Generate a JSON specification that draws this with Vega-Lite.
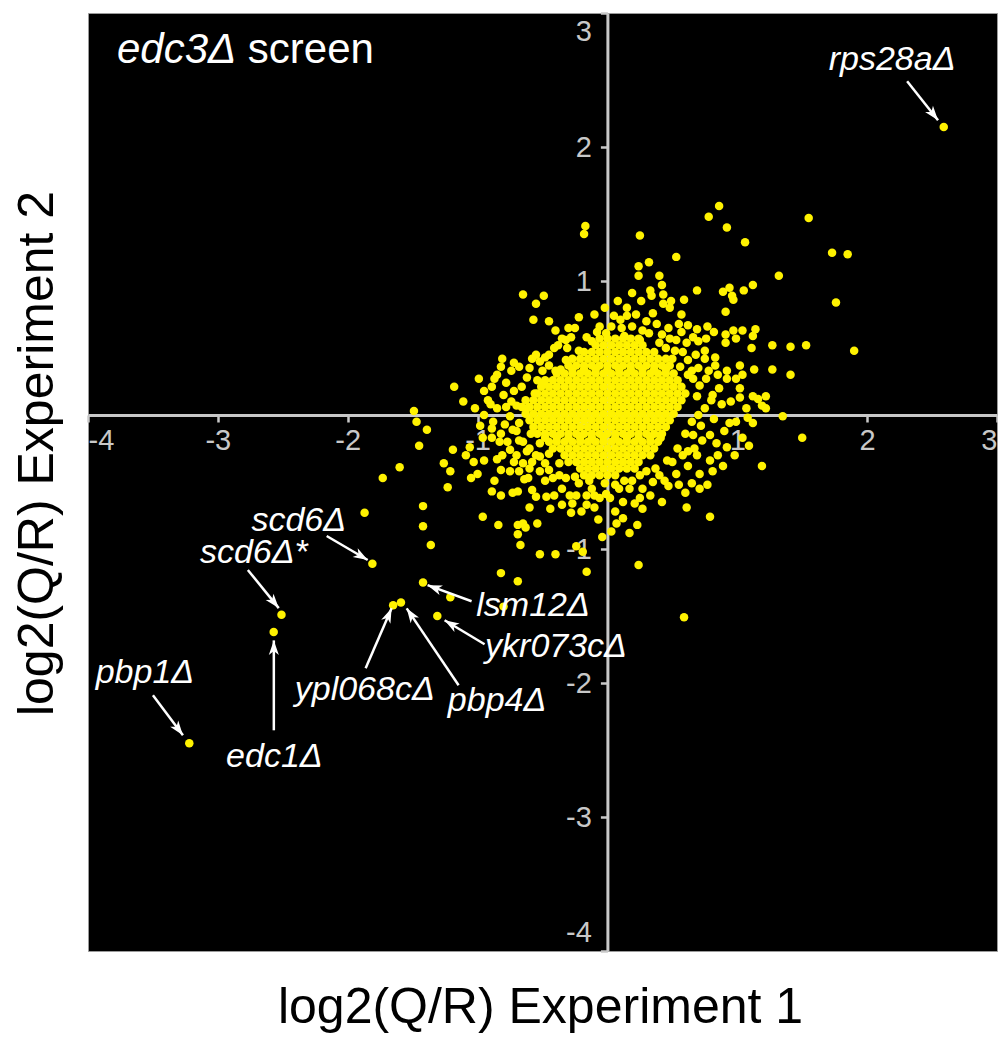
{
"$schema":"https://vega.github.io/schema/vega-lite/v6.json",
"width":909,"height":938,
"autosize":{"type":"none"},
"padding":{"left":88,"top":13,"right":1,"bottom":86},
"background":"white",
"config":{
"view":{"fill":"black","stroke":"#9a9a9a","strokeWidth":1},
"font":"Liberation Sans",
"axis":{"domainColor":"#c8c8c8","domainWidth":3,"tickColor":"#c8c8c8","tickWidth":2.5,"tickSize":7,"labelColor":"#c8c8c8","labelFontSize":29,"labelFont":"Liberation Sans","grid":false,"titleFont":"Liberation Sans","titleFontSize":50,"titleFontWeight":"normal","titleColor":"black","zindex":1}
},
"datasets":{
"pts":[
{"x":-0.06,"y":0.57},{"x":0,"y":0.57},{"x":0.06,"y":0.57},{"x":0.12,"y":0.57},{"x":0.18,"y":0.57},{"x":0.24,"y":0.57},
{"x":-0.09,"y":0.52},{"x":-0.03,"y":0.52},{"x":0.03,"y":0.52},{"x":0.09,"y":0.52},{"x":0.15,"y":0.52},{"x":0.21,"y":0.52},{"x":0.27,"y":0.52},
{"x":-0.18,"y":0.47},{"x":-0.12,"y":0.47},{"x":-0.06,"y":0.47},{"x":0,"y":0.47},{"x":0.06,"y":0.47},{"x":0.12,"y":0.47},{"x":0.18,"y":0.47},{"x":0.24,"y":0.47},{"x":0.3,"y":0.47},{"x":0.36,"y":0.47},
{"x":-0.27,"y":0.42},{"x":-0.21,"y":0.42},{"x":-0.15,"y":0.42},{"x":-0.09,"y":0.42},{"x":-0.03,"y":0.42},{"x":0.03,"y":0.42},{"x":0.09,"y":0.42},{"x":0.15,"y":0.42},{"x":0.21,"y":0.42},{"x":0.27,"y":0.42},{"x":0.33,"y":0.42},{"x":0.39,"y":0.42},{"x":0.45,"y":0.42},
{"x":-0.3,"y":0.37},{"x":-0.24,"y":0.37},{"x":-0.18,"y":0.37},{"x":-0.12,"y":0.37},{"x":-0.06,"y":0.37},{"x":0,"y":0.37},{"x":0.06,"y":0.37},{"x":0.12,"y":0.37},{"x":0.18,"y":0.37},{"x":0.24,"y":0.37},{"x":0.3,"y":0.37},{"x":0.36,"y":0.37},{"x":0.42,"y":0.37},{"x":0.48,"y":0.37},
{"x":-0.36,"y":0.34},{"x":-0.27,"y":0.34},{"x":-0.18,"y":0.34},{"x":-0.09,"y":0.34},{"x":0,"y":0.34},{"x":0.09,"y":0.34},{"x":0.18,"y":0.34},{"x":0.27,"y":0.34},{"x":0.36,"y":0.34},{"x":0.45,"y":0.34},
{"x":-0.39,"y":0.31},{"x":-0.33,"y":0.31},{"x":-0.27,"y":0.31},{"x":-0.21,"y":0.31},{"x":-0.15,"y":0.31},{"x":-0.09,"y":0.31},{"x":-0.03,"y":0.31},{"x":0.03,"y":0.31},{"x":0.09,"y":0.31},{"x":0.15,"y":0.31},{"x":0.21,"y":0.31},{"x":0.27,"y":0.31},{"x":0.33,"y":0.31},{"x":0.39,"y":0.31},{"x":0.45,"y":0.31},{"x":0.51,"y":0.31},
{"x":-0.48,"y":0.26},{"x":-0.42,"y":0.26},{"x":-0.36,"y":0.26},{"x":-0.3,"y":0.26},{"x":-0.24,"y":0.26},{"x":-0.18,"y":0.26},{"x":-0.12,"y":0.26},{"x":-0.06,"y":0.26},{"x":0,"y":0.26},{"x":0.06,"y":0.26},{"x":0.12,"y":0.26},{"x":0.18,"y":0.26},{"x":0.24,"y":0.26},{"x":0.3,"y":0.26},{"x":0.36,"y":0.26},{"x":0.42,"y":0.26},{"x":0.48,"y":0.26},{"x":0.54,"y":0.26},
{"x":-0.51,"y":0.21},{"x":-0.45,"y":0.21},{"x":-0.39,"y":0.21},{"x":-0.33,"y":0.21},{"x":-0.27,"y":0.21},{"x":-0.21,"y":0.21},{"x":-0.15,"y":0.21},{"x":-0.09,"y":0.21},{"x":-0.03,"y":0.21},{"x":0.03,"y":0.21},{"x":0.09,"y":0.21},{"x":0.15,"y":0.21},{"x":0.21,"y":0.21},{"x":0.27,"y":0.21},{"x":0.33,"y":0.21},{"x":0.39,"y":0.21},{"x":0.45,"y":0.21},{"x":0.51,"y":0.21},{"x":0.57,"y":0.21},
{"x":-0.54,"y":0.16},{"x":-0.48,"y":0.16},{"x":-0.42,"y":0.16},{"x":-0.36,"y":0.16},{"x":-0.3,"y":0.16},{"x":-0.24,"y":0.16},{"x":-0.18,"y":0.16},{"x":-0.12,"y":0.16},{"x":-0.06,"y":0.16},{"x":0,"y":0.16},{"x":0.06,"y":0.16},{"x":0.12,"y":0.16},{"x":0.18,"y":0.16},{"x":0.24,"y":0.16},{"x":0.3,"y":0.16},{"x":0.36,"y":0.16},{"x":0.42,"y":0.16},{"x":0.48,"y":0.16},{"x":0.54,"y":0.16},{"x":0.6,"y":0.16},
{"x":-0.63,"y":0.11},{"x":-0.57,"y":0.11},{"x":-0.51,"y":0.11},{"x":-0.45,"y":0.11},{"x":-0.39,"y":0.11},{"x":-0.33,"y":0.11},{"x":-0.27,"y":0.11},{"x":-0.21,"y":0.11},{"x":-0.15,"y":0.11},{"x":-0.09,"y":0.11},{"x":-0.03,"y":0.11},{"x":0.03,"y":0.11},{"x":0.09,"y":0.11},{"x":0.15,"y":0.11},{"x":0.21,"y":0.11},{"x":0.27,"y":0.11},{"x":0.33,"y":0.11},{"x":0.39,"y":0.11},{"x":0.45,"y":0.11},{"x":0.51,"y":0.11},{"x":0.57,"y":0.11},
{"x":-0.66,"y":0.06},{"x":-0.6,"y":0.06},{"x":-0.54,"y":0.06},{"x":-0.48,"y":0.06},{"x":-0.42,"y":0.06},{"x":-0.36,"y":0.06},{"x":-0.3,"y":0.06},{"x":-0.24,"y":0.06},{"x":-0.18,"y":0.06},{"x":-0.12,"y":0.06},{"x":-0.06,"y":0.06},{"x":0,"y":0.06},{"x":0.06,"y":0.06},{"x":0.12,"y":0.06},{"x":0.18,"y":0.06},{"x":0.24,"y":0.06},{"x":0.3,"y":0.06},{"x":0.36,"y":0.06},{"x":0.42,"y":0.06},{"x":0.48,"y":0.06},{"x":0.54,"y":0.06},
{"x":-0.63,"y":0.01},{"x":-0.57,"y":0.01},{"x":-0.51,"y":0.01},{"x":-0.45,"y":0.01},{"x":-0.39,"y":0.01},{"x":-0.33,"y":0.01},{"x":-0.27,"y":0.01},{"x":-0.21,"y":0.01},{"x":-0.15,"y":0.01},{"x":-0.09,"y":0.01},{"x":-0.03,"y":0.01},{"x":0.03,"y":0.01},{"x":0.09,"y":0.01},{"x":0.15,"y":0.01},{"x":0.21,"y":0.01},{"x":0.27,"y":0.01},{"x":0.33,"y":0.01},{"x":0.39,"y":0.01},{"x":0.45,"y":0.01},{"x":0.51,"y":0.01},
{"x":-0.6,"y":-0.04},{"x":-0.54,"y":-0.04},{"x":-0.48,"y":-0.04},{"x":-0.42,"y":-0.04},{"x":-0.36,"y":-0.04},{"x":-0.3,"y":-0.04},{"x":-0.24,"y":-0.04},{"x":-0.18,"y":-0.04},{"x":-0.12,"y":-0.04},{"x":-0.06,"y":-0.04},{"x":0,"y":-0.04},{"x":0.06,"y":-0.04},{"x":0.12,"y":-0.04},{"x":0.18,"y":-0.04},{"x":0.24,"y":-0.04},{"x":0.3,"y":-0.04},{"x":0.36,"y":-0.04},{"x":0.42,"y":-0.04},{"x":0.48,"y":-0.04},
{"x":-0.57,"y":-0.09},{"x":-0.51,"y":-0.09},{"x":-0.45,"y":-0.09},{"x":-0.39,"y":-0.09},{"x":-0.33,"y":-0.09},{"x":-0.27,"y":-0.09},{"x":-0.21,"y":-0.09},{"x":-0.15,"y":-0.09},{"x":-0.09,"y":-0.09},{"x":-0.03,"y":-0.09},{"x":0.03,"y":-0.09},{"x":0.09,"y":-0.09},{"x":0.15,"y":-0.09},{"x":0.21,"y":-0.09},{"x":0.27,"y":-0.09},{"x":0.33,"y":-0.09},{"x":0.39,"y":-0.09},{"x":0.45,"y":-0.09},
{"x":-0.54,"y":-0.14},{"x":-0.48,"y":-0.14},{"x":-0.42,"y":-0.14},{"x":-0.36,"y":-0.14},{"x":-0.3,"y":-0.14},{"x":-0.24,"y":-0.14},{"x":-0.18,"y":-0.14},{"x":-0.12,"y":-0.14},{"x":-0.06,"y":-0.14},{"x":0,"y":-0.14},{"x":0.06,"y":-0.14},{"x":0.12,"y":-0.14},{"x":0.18,"y":-0.14},{"x":0.24,"y":-0.14},{"x":0.3,"y":-0.14},{"x":0.36,"y":-0.14},{"x":0.42,"y":-0.14},
{"x":-0.48,"y":-0.17},{"x":-0.39,"y":-0.17},{"x":-0.3,"y":-0.17},{"x":-0.21,"y":-0.17},{"x":-0.12,"y":-0.17},{"x":-0.03,"y":-0.17},{"x":0.06,"y":-0.17},{"x":0.15,"y":-0.17},{"x":0.24,"y":-0.17},{"x":0.33,"y":-0.17},{"x":0.41,"y":-0.17},
{"x":-0.45,"y":-0.2},{"x":-0.39,"y":-0.2},{"x":-0.33,"y":-0.2},{"x":-0.27,"y":-0.2},{"x":-0.21,"y":-0.2},{"x":-0.15,"y":-0.2},{"x":-0.09,"y":-0.2},{"x":-0.03,"y":-0.2},{"x":0.03,"y":-0.2},{"x":0.09,"y":-0.2},{"x":0.15,"y":-0.2},{"x":0.21,"y":-0.2},{"x":0.27,"y":-0.2},{"x":0.33,"y":-0.2},{"x":0.39,"y":-0.2},
{"x":-0.42,"y":-0.25},{"x":-0.36,"y":-0.25},{"x":-0.3,"y":-0.25},{"x":-0.24,"y":-0.25},{"x":-0.18,"y":-0.25},{"x":-0.12,"y":-0.25},{"x":-0.06,"y":-0.25},{"x":0,"y":-0.25},{"x":0.06,"y":-0.25},{"x":0.12,"y":-0.25},{"x":0.18,"y":-0.25},{"x":0.24,"y":-0.25},{"x":0.3,"y":-0.25},{"x":0.36,"y":-0.25},
{"x":-0.33,"y":-0.3},{"x":-0.27,"y":-0.3},{"x":-0.21,"y":-0.3},{"x":-0.15,"y":-0.3},{"x":-0.09,"y":-0.3},{"x":-0.03,"y":-0.3},{"x":0.03,"y":-0.3},{"x":0.09,"y":-0.3},{"x":0.15,"y":-0.3},{"x":0.21,"y":-0.3},{"x":0.27,"y":-0.3},{"x":0.33,"y":-0.3},
{"x":-0.3,"y":-0.35},{"x":-0.24,"y":-0.35},{"x":-0.18,"y":-0.35},{"x":-0.12,"y":-0.35},{"x":-0.06,"y":-0.35},{"x":0,"y":-0.35},{"x":0.06,"y":-0.35},{"x":0.12,"y":-0.35},{"x":0.18,"y":-0.35},{"x":0.24,"y":-0.35},
{"x":-0.21,"y":-0.4},{"x":-0.15,"y":-0.4},{"x":-0.09,"y":-0.4},{"x":-0.03,"y":-0.4},{"x":0.03,"y":-0.4},{"x":0.09,"y":-0.4},{"x":0.15,"y":-0.4},{"x":0.21,"y":-0.4},
{"x":-0.18,"y":-0.45},{"x":-0.12,"y":-0.45},{"x":-0.06,"y":-0.45},{"x":0,"y":-0.45},{"x":0.06,"y":-0.45},
{"x":0.86,"y":1.56},{"x":0.78,"y":1.48},{"x":0.92,"y":1.4},{"x":1.55,"y":1.47},{"x":1.06,"y":1.29},{"x":0.25,"y":1.34},{"x":1.73,"y":1.21},{"x":1.85,"y":1.2},{"x":0.53,"y":1.18},{"x":0.32,"y":1.14},{"x":0.24,"y":1.11},{"x":0.24,"y":1.04},{"x":0.4,"y":1.04},{"x":1.32,"y":1.04},{"x":-0.17,"y":1.41},{"x":-0.18,"y":1.35},
{"x":-0.65,"y":0.9},{"x":-0.49,"y":0.89},{"x":-0.55,"y":0.83},{"x":0.19,"y":0.91},{"x":0.33,"y":0.93},{"x":0.42,"y":0.97},{"x":0.43,"y":0.9},{"x":0.34,"y":0.89},{"x":0.69,"y":0.93},{"x":0.89,"y":0.92},{"x":0.94,"y":0.95},{"x":0.96,"y":0.89},{"x":0.97,"y":0.86},{"x":1.05,"y":0.93},{"x":1.12,"y":0.97},{"x":1.76,"y":0.84},
{"x":0.59,"y":0.86},{"x":0.49,"y":0.85},{"x":0.48,"y":0.8},{"x":0.43,"y":0.83},{"x":0.15,"y":0.8},{"x":0.35,"y":0.76},{"x":0.05,"y":0.74},{"x":0.1,"y":0.71},{"x":0.15,"y":0.74},{"x":0.57,"y":0.75},{"x":0.91,"y":0.77},{"x":0.55,"y":0.68},{"x":0.62,"y":0.67},{"x":0.77,"y":0.66},{"x":0.69,"y":0.64},
{"x":1.14,"y":0.64},{"x":1.12,"y":0.59},{"x":1.04,"y":0.63},{"x":0.97,"y":0.63},{"x":0.82,"y":0.62},{"x":1.27,"y":0.52},{"x":1.41,"y":0.51},{"x":1.53,"y":0.52},{"x":1.11,"y":0.5},{"x":0.91,"y":0.6},{"x":0.91,"y":0.54},{"x":0.99,"y":0.57},{"x":1.9,"y":0.48},
{"x":1.13,"y":0.34},{"x":1.27,"y":0.34},{"x":1.41,"y":0.3},{"x":1.02,"y":0.37},{"x":0.92,"y":0.33},{"x":0.83,"y":0.43},{"x":0.83,"y":0.37},{"x":0.75,"y":0.42},{"x":0.7,"y":0.55},{"x":0.76,"y":0.57},{"x":0.61,"y":0.54},{"x":0.53,"y":0.56},{"x":0.48,"y":0.57},{"x":0.42,"y":0.6},{"x":0.27,"y":0.63},{"x":0.19,"y":0.66},{"x":0.11,"y":0.65},{"x":-0.01,"y":0.61},{"x":0.25,"y":0.56},
{"x":1.04,"y":0.3},{"x":0.99,"y":0.27},{"x":1.12,"y":0.14},{"x":1.22,"y":0.14},{"x":1.02,"y":0.13},{"x":1.19,"y":0.07},{"x":0.86,"y":0.2},{"x":0.81,"y":0.15},{"x":1.02,"y":0.2},{"x":0.92,"y":0.27},{"x":0.76,"y":0.27},{"x":0.71,"y":0.22},{"x":0.65,"y":0.33},{"x":1.07,"y":0.05},{"x":1.16,"y":0.12},{"x":1.35,"y":-0.01},
{"x":-0.57,"y":0.71},{"x":-0.22,"y":0.73},{"x":-0.3,"y":0.65},{"x":-0.06,"y":0.66},{"x":-0.08,"y":0.62},{"x":-0.16,"y":0.58},{"x":-0.35,"y":0.57},{"x":-0.32,"y":0.56},{"x":-0.31,"y":0.5},{"x":-0.41,"y":0.5},{"x":-0.55,"y":0.45},{"x":-0.58,"y":0.42},{"x":-0.48,"y":0.43},{"x":-0.81,"y":0.42},{"x":-0.72,"y":0.39},{"x":-0.68,"y":0.36},{"x":-0.74,"y":0.33},{"x":-0.62,"y":0.28},{"x":-0.5,"y":0.33},
{"x":-0.99,"y":0.27},{"x":-1.18,"y":0.21},{"x":-0.89,"y":0.21},{"x":-1.11,"y":0.1},{"x":-0.92,"y":0.11},{"x":-0.72,"y":0.18},{"x":-0.66,"y":0.21},{"x":-0.74,"y":0.1},{"x":-0.7,"y":0.07},{"x":-0.54,"y":0.26},{"x":-0.45,"y":0.37},
{"x":-1.49,"y":0.03},{"x":-1.47,"y":-0.05},{"x":-1.39,"y":-0.11},{"x":-1.45,"y":-0.23},{"x":-1.19,"y":-0.26},{"x":-1.09,"y":-0.3},{"x":1.5,"y":-0.17},{"x":-0.89,"y":-0.1},{"x":-0.82,"y":-0.14},{"x":-0.73,"y":-0.11},{"x":-1.26,"y":-0.36},{"x":-1.21,"y":-0.42},{"x":-1.23,"y":-0.54},{"x":-1.06,"y":-0.24},
{"x":-0.96,"y":-0.17},{"x":-0.89,"y":-0.17},{"x":-0.83,"y":-0.2},{"x":-1.03,"y":-0.35},{"x":-0.95,"y":-0.34},{"x":-0.85,"y":-0.33},{"x":-1.05,"y":-0.47},{"x":-1,"y":-0.44},{"x":-0.82,"y":-0.41},{"x":-0.75,"y":-0.42},{"x":-0.87,"y":-0.49},{"x":-0.89,"y":-0.57},{"x":-0.82,"y":-0.6},{"x":-0.73,"y":-0.58},{"x":-0.69,"y":-0.57},
{"x":-0.68,"y":-0.42},{"x":-0.64,"y":-0.48},{"x":-0.61,"y":-0.47},{"x":-0.58,"y":-0.56},{"x":-0.55,"y":-0.61},{"x":-0.6,"y":-0.69},{"x":-0.48,"y":-0.49},{"x":-0.47,"y":-0.61},{"x":-0.41,"y":-0.6},{"x":-0.35,"y":-0.67},{"x":-0.29,"y":-0.6},{"x":-0.28,"y":-0.73},{"x":-0.24,"y":-0.6},
{"x":-0.96,"y":-0.76},{"x":-0.84,"y":-0.82},{"x":-0.69,"y":-0.82},{"x":-0.65,"y":-0.81},{"x":-0.69,"y":-0.89},{"x":-0.63,"y":-0.84},{"x":-0.54,"y":-0.81},{"x":-0.67,"y":-0.97},{"x":-0.52,"y":-1.04},{"x":-0.4,"y":-1.04},{"x":-0.24,"y":-0.98},{"x":-0.19,"y":-1.02},
{"x":-0.16,"y":-0.67},{"x":-0.1,"y":-0.69},{"x":-0.07,"y":-0.78},{"x":-0.04,"y":-0.91},{"x":0.03,"y":-0.87},{"x":0.07,"y":-0.81},{"x":0.06,"y":-0.72},{"x":0.06,"y":-0.52},{"x":-0.01,"y":-0.59},{"x":-0.06,"y":-0.62},{"x":-0.16,"y":-0.6},{"x":-0.27,"y":-0.66},
{"x":-0.7,"y":-0.3},{"x":-0.62,"y":-0.27},{"x":-0.65,"y":-0.36},{"x":-0.58,"y":-0.35},{"x":-0.52,"y":-0.31},{"x":-0.75,"y":-0.26},{"x":-0.81,"y":-0.3},{"x":-0.52,"y":-0.42},{"x":-0.45,"y":-0.41},{"x":-0.37,"y":-0.45},{"x":-0.32,"y":-0.47},{"x":-0.22,"y":-0.51},{"x":-0.12,"y":-0.55},{"x":-0.68,"y":-0.19},
{"x":1.22,"y":0.05},{"x":1.12,"y":-0.06},{"x":1.09,"y":-0.23},{"x":1.19,"y":-0.38},{"x":1.04,"y":-0.17},{"x":0.92,"y":-0.24},{"x":0.89,"y":-0.38},{"x":0.81,"y":-0.42},{"x":0.79,"y":-0.34},{"x":0.71,"y":-0.44},{"x":0.94,"y":-0.06},{"x":0.99,"y":-0.05},{"x":1.08,"y":-0.02},{"x":0.84,"y":-0.21},{"x":0.79,"y":-0.15},{"x":0.73,"y":-0.19},{"x":0.69,"y":-0.3},{"x":0.62,"y":-0.38},{"x":0.65,"y":-0.51},{"x":0.71,"y":-0.55},
{"x":0.53,"y":-0.44},{"x":0.44,"y":-0.49},{"x":0.47,"y":-0.53},{"x":0.35,"y":-0.5},{"x":0.27,"y":-0.55},{"x":0.19,"y":-0.49},{"x":0.17,"y":-0.55},{"x":0.25,"y":-0.62},{"x":0.21,"y":-0.66},{"x":0.02,"y":-0.62},{"x":0.42,"y":-0.65},{"x":0.61,"y":-0.69},{"x":0.27,"y":-0.7},{"x":0.79,"y":-0.76},{"x":0.23,"y":-0.82},{"x":0.17,"y":-0.88},{"x":0.24,"y":-1.12},{"x":0.62,"y":-0.27},{"x":0.67,"y":-0.25},
{"x":-0.16,"y":-1.17},{"x":0.59,"y":-1.51},{"x":-0.82,"y":-1.18},{"x":-0.69,"y":-1.24},{"x":-1.42,"y":-0.83},{"x":-1.36,"y":-0.97},{"x":-1.21,"y":-1.36},{"x":-0.8,"y":-1.43},{"x":-1.87,"y":-0.73},{"x":-1.73,"y":-0.47},{"x":-1.42,"y":-0.68},{"x":-1.6,"y":-0.39},
{"x":-0.49,"y":0.24},{"x":-0.4,"y":0.33},{"x":-0.32,"y":0.41},{"x":-0.22,"y":0.48},{"x":-0.12,"y":0.55},{"x":-0.56,"y":0.16},{"x":-0.62,"y":0.05},{"x":-0.75,"y":-0.01},{"x":-0.79,"y":-0.07},{"x":-0.68,"y":-0.06},{"x":0.62,"y":0.41},{"x":0.66,"y":0.27},{"x":0.69,"y":0.14},{"x":0.75,"y":0.05},{"x":0.65,"y":-0.05},{"x":0.6,"y":-0.14},{"x":0.54,"y":-0.25},{"x":0.46,"y":-0.34},{"x":0.37,"y":-0.4},{"x":0.8,"y":0.11},{"x":0.82,"y":-0.03},{"x":0.52,"y":0.48},{"x":0.4,"y":0.54},{"x":0.32,"y":0.61},{"x":0.25,"y":-0.45},{"x":0.13,"y":-0.49},{"x":-0.02,"y":-0.51},{"x":-0.14,"y":-0.49},{"x":-0.25,"y":-0.46},{"x":-0.37,"y":-0.36},{"x":-0.45,"y":-0.29},{"x":-0.52,"y":-0.21},{"x":-0.59,"y":-0.14},{"x":0.03,"y":0.66},{"x":0.13,"y":0.59},
{"x":0.5,"y":0.42},{"x":0.56,"y":0.36},{"x":0.58,"y":0.47},{"x":0.45,"y":0.5},{"x":0.62,"y":0.3},{"x":0.7,"y":0.35},{"x":0.68,"y":0.45},{"x":0.57,"y":0.62},{"x":0.47,"y":0.65},{"x":0.38,"y":0.68},{"x":0.3,"y":0.7},{"x":0.22,"y":0.75},
{"x":-0.65,"y":-0.2},{"x":-0.7,"y":-0.12},{"x":-0.6,"y":-0.25},{"x":-0.55,"y":-0.3},{"x":-0.48,"y":-0.36},{"x":-0.42,"y":-0.47},{"x":-0.77,"y":-0.2},{"x":-0.72,"y":-0.35},{"x":-0.6,"y":-0.4},
{"x":0.5,"y":-0.35},{"x":0.58,"y":-0.3},{"x":0.66,"y":-0.15},{"x":0.72,"y":-0.08},{"x":0.7,"y":0},{"x":0.55,"y":-0.52},{"x":0.4,"y":-0.45},{"x":0.3,"y":-0.42},{"x":0.09,"y":-0.55},
{"x":-0.6,"y":0.35},{"x":-0.52,"y":0.4},{"x":-0.45,"y":0.45},{"x":-0.38,"y":0.52},{"x":-0.28,"y":0.58},{"x":-0.25,"y":0.65},{"x":-0.85,"y":0.3},{"x":-0.8,"y":0.15},{"x":-0.85,"y":0.05},{"x":-0.95,"y":0},{"x":-0.88,"y":-0.05},
{"x":-0.95,"y":0.18},{"x":-0.87,"y":0.27},{"x":-0.78,"y":0.24},{"x":-0.82,"y":0.36},{"x":-1.02,"y":0.05},{"x":-0.98,"y":-0.08},{"x":-0.9,"y":0.08},{"x":-0.78,"y":0.06},
{"x":0.85,"y":0.3},{"x":0.78,"y":0.33},{"x":0.88,"y":0.08},{"x":0.95,"y":0.1},{"x":0.9,"y":-0.12},{"x":0.85,"y":-0.3},{"x":0.98,"y":-0.3},{"x":0.77,"y":-0.52},{"x":0.6,"y":-0.58},{"x":0.75,"y":0.48},{"x":0.66,"y":0.58},
{"x":-0.35,"y":-0.55},{"x":-0.44,"y":-0.7},{"x":-0.2,"y":-0.72},{"x":-0.1,"y":-0.6},{"x":0.12,"y":-0.65},{"x":0.33,"y":-0.6},{"x":0.12,"y":-0.77},
{"x":-0.1,"y":0.75},{"x":-0.02,"y":0.8},{"x":0.08,"y":0.85},{"x":0.26,"y":0.85},{"x":-0.4,"y":0.63},{"x":-0.45,"y":0.7},
{"x":2.59,"y":2.15},{"x":-1.81,"y":-1.11},{"x":-2.51,"y":-1.49},{"x":-2.57,"y":-1.62},{"x":-3.22,"y":-2.45},{"x":-1.65,"y":-1.42},{"x":-1.59,"y":-1.4},{"x":-1.42,"y":-1.25},{"x":-1.31,"y":-1.5}
],
"arrows":[
{"name":"rps28aΔ","x":2.546,"y":2.199,"tx":2.308,"ty":2.49},
{"name":"scd6Δ","x":-1.846,"y":-1.082,"tx":-2.162,"ty":-0.903},
{"name":"scd6Δ*","x":-2.531,"y":-1.441,"tx":-2.769,"ty":-1.157},
{"name":"edc1Δ","x":-2.569,"y":-1.682,"tx":-2.569,"ty":-2.353},
{"name":"pbp1Δ","x":-3.269,"y":-2.39,"tx":-3.5,"ty":-2.092},
{"name":"ypl068cΔ","x":-1.662,"y":-1.443,"tx":-1.862,"ty":-1.89},
{"name":"pbp4Δ","x":-1.546,"y":-1.443,"tx":-1.146,"ty":-2.017},
{"name":"lsm12Δ","x":-1.385,"y":-1.27,"tx":-1.046,"ty":-1.39},
{"name":"ykr073cΔ","x":-1.254,"y":-1.532,"tx":-0.946,"ty":-1.711}
],
"ann":[
{"label":"rps28aΔ","x":2.192,"y":2.572},
{"label":"scd6Δ","x":-2.377,"y":-0.868},
{"label":"scd6Δ*","x":-2.723,"y":-1.107},
{"label":"pbp1Δ","x":-3.562,"y":-2.002},
{"label":"edc1Δ","x":-2.565,"y":-2.624},
{"label":"ypl068cΔ","x":-1.869,"y":-2.129},
{"label":"pbp4Δ","x":-0.85,"y":-2.211},
{"label":"lsm12Δ","x":-0.573,"y":-1.502},
{"label":"ykr073cΔ","x":-0.396,"y":-1.808}
]
},
"layer":[
{"data":{"name":"pts"},
"mark":{"type":"point","filled":true,"size":72,"color":"#fff200","opacity":1,"strokeWidth":0},
"encoding":{
"x":{"field":"x","type":"quantitative","scale":{"domain":[-4,3],"nice":false,"zero":false},
"axis":{"title":"log2(Q/R) Experiment 1","orient":"bottom","offset":-536,"values":[-4,-3,-2,-1,0,1,2,3],"labelExpr":"'' + datum.value","labelFlush":true,"labelPadding":4,"titleX":452,"titleY":607,"titleBaseline":"alphabetic","titleAlign":"center","titleAngle":0}},
"y":{"field":"y","type":"quantitative","scale":{"domain":[-4,3],"nice":false,"zero":false},
"axis":{"title":"log2(Q/R) Experiment 2","orient":"left","offset":-519.4,"values":[-4,-3,-2,-1,0,1,2,3],"labelExpr":"'' + datum.value","labelFlush":true,"labelFlushOffset":-4,"labelPadding":9,"titleX":-555,"titleY":440,"titleBaseline":"alphabetic","titleAlign":"center","titleAngle":-90}}
}},
{"data":{"name":"arrows"},
"mark":{"type":"rule","color":"white","strokeWidth":2.5},
"encoding":{"x":{"field":"x","type":"quantitative"},"y":{"field":"y","type":"quantitative"},"x2":{"field":"tx"},"y2":{"field":"ty"}}},
{"data":{"name":"arrows"},
"transform":[{"calculate":"atan2((datum.x-datum.tx)*130,(datum.y-datum.ty)*134)*180/PI","as":"ang"}],
"mark":{"type":"point","filled":true,"color":"white","opacity":1,"strokeWidth":0,"size":5,"shape":"M0,0L4.5,13L0,9.5L-4.5,13Z"},
"encoding":{"x":{"field":"x","type":"quantitative"},"y":{"field":"y","type":"quantitative"},"angle":{"field":"ang","type":"quantitative","scale":null}}},
{"data":{"name":"ann"},
"mark":{"type":"text","color":"white","font":"Liberation Sans","fontSize":34,"fontStyle":"italic","align":"center","baseline":"alphabetic"},
"encoding":{"x":{"field":"x","type":"quantitative"},"y":{"field":"y","type":"quantitative"},"text":{"field":"label"}}},
{"data":{"values":[{"t":"edc3Δ","x":-3.777,"y":2.625}]},
"mark":{"type":"text","color":"white","font":"Liberation Sans","fontSize":42,"fontStyle":"italic","align":"left","baseline":"alphabetic"},
"encoding":{"x":{"field":"x","type":"quantitative"},"y":{"field":"y","type":"quantitative"},"text":{"field":"t"}}},
{"data":{"values":[{"t":"screen","x":-2.769,"y":2.625}]},
"mark":{"type":"text","color":"white","font":"Liberation Sans","fontSize":42,"align":"left","baseline":"alphabetic"},
"encoding":{"x":{"field":"x","type":"quantitative"},"y":{"field":"y","type":"quantitative"},"text":{"field":"t"}}}
]
}
